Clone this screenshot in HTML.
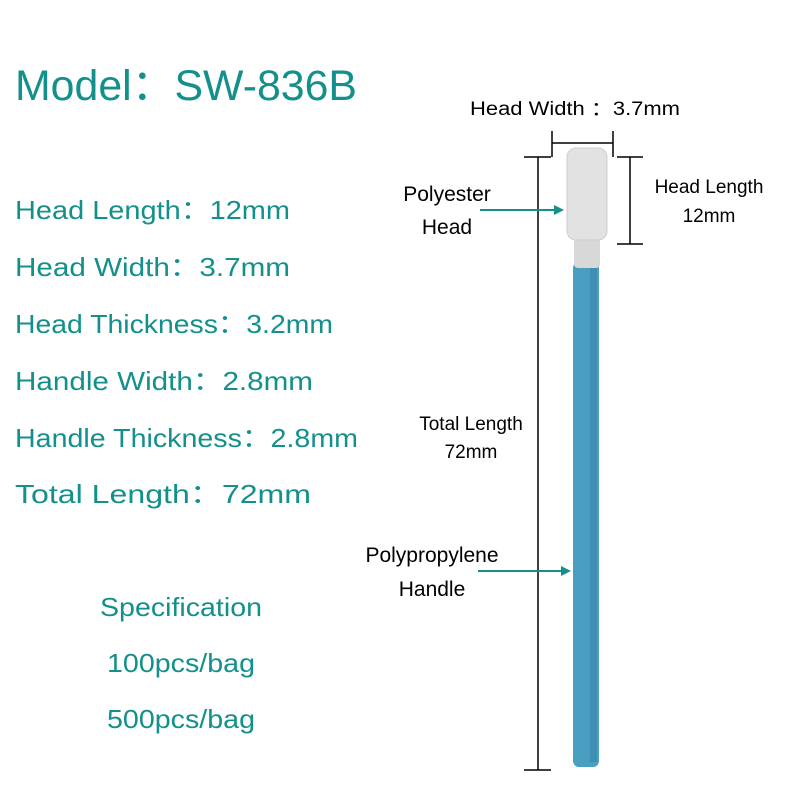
<!DOCTYPE html>
<html><head><meta charset="utf-8"><style>body{margin:0;background:#fff}</style></head><body>
<svg width="800" height="800" xmlns="http://www.w3.org/2000/svg" font-family="Liberation Sans, sans-serif">
<rect width="800" height="800" fill="#fff"/>
<g fill="#13908b">
<text x="15" y="100" font-size="43" textLength="342" lengthAdjust="spacingAndGlyphs">Model：SW-836B</text>
<g font-size="26">
<text x="15" y="219" textLength="275" lengthAdjust="spacingAndGlyphs">Head Length：12mm</text>
<text x="15" y="276" textLength="275" lengthAdjust="spacingAndGlyphs">Head Width：3.7mm</text>
<text x="15" y="333" textLength="318" lengthAdjust="spacingAndGlyphs">Head Thickness：3.2mm</text>
<text x="15" y="390" textLength="298" lengthAdjust="spacingAndGlyphs">Handle Width：2.8mm</text>
<text x="15" y="447" textLength="343" lengthAdjust="spacingAndGlyphs">Handle Thickness：2.8mm</text>
<text x="15" y="503" textLength="296" lengthAdjust="spacingAndGlyphs">Total Length：72mm</text>
<text x="181" y="616" text-anchor="middle" textLength="162" lengthAdjust="spacingAndGlyphs">Specification</text>
<text x="181" y="672" text-anchor="middle" textLength="148" lengthAdjust="spacingAndGlyphs">100pcs/bag</text>
<text x="181" y="728" text-anchor="middle" textLength="148" lengthAdjust="spacingAndGlyphs">500pcs/bag</text>
</g></g>
<g fill="#000" font-size="19" text-anchor="middle">
<text x="575" y="115" textLength="210" lengthAdjust="spacingAndGlyphs">Head Width ：3.7mm</text>
<text x="709" y="193">Head Length</text>
<text x="709" y="222">12mm</text>
<text x="447" y="201" font-size="21">Polyester</text>
<text x="447" y="234" font-size="21">Head</text>
<text x="471" y="430">Total Length</text>
<text x="471" y="458">72mm</text>
<text x="432" y="562" font-size="21">Polypropylene</text>
<text x="432" y="596" font-size="21">Handle</text>
</g>
<g stroke="#000" stroke-width="1.5" fill="none">
<line x1="552" y1="131" x2="552" y2="157"/><line x1="613" y1="131" x2="613" y2="157"/><line x1="552" y1="143" x2="613" y2="143"/>
<line x1="538" y1="157" x2="538" y2="770"/><line x1="524" y1="157" x2="551" y2="157"/><line x1="524" y1="770" x2="551" y2="770"/>
<line x1="630" y1="157" x2="630" y2="244"/><line x1="617" y1="157" x2="643" y2="157"/><line x1="617" y1="244" x2="643" y2="244"/>
</g>
<rect x="573" y="262" width="26" height="505" rx="6" fill="#4a9ec2"/>
<rect x="590" y="262" width="7" height="500" fill="#3f8fb2"/>
<rect x="574" y="228" width="26" height="40" rx="4" fill="#d8d8d8"/>
<rect x="567" y="148" width="40" height="92" rx="9" fill="#e2e2e2" stroke="#cfcfcf"/>
<g stroke="#13908b" stroke-width="2" fill="#13908b">
<line x1="480" y1="210" x2="556" y2="210"/><polygon points="564,210 554,205 554,215" stroke="none"/>
<line x1="478" y1="571" x2="563" y2="571"/><polygon points="571,571 561,566 561,576" stroke="none"/>
</g>
</svg>
</body></html>
